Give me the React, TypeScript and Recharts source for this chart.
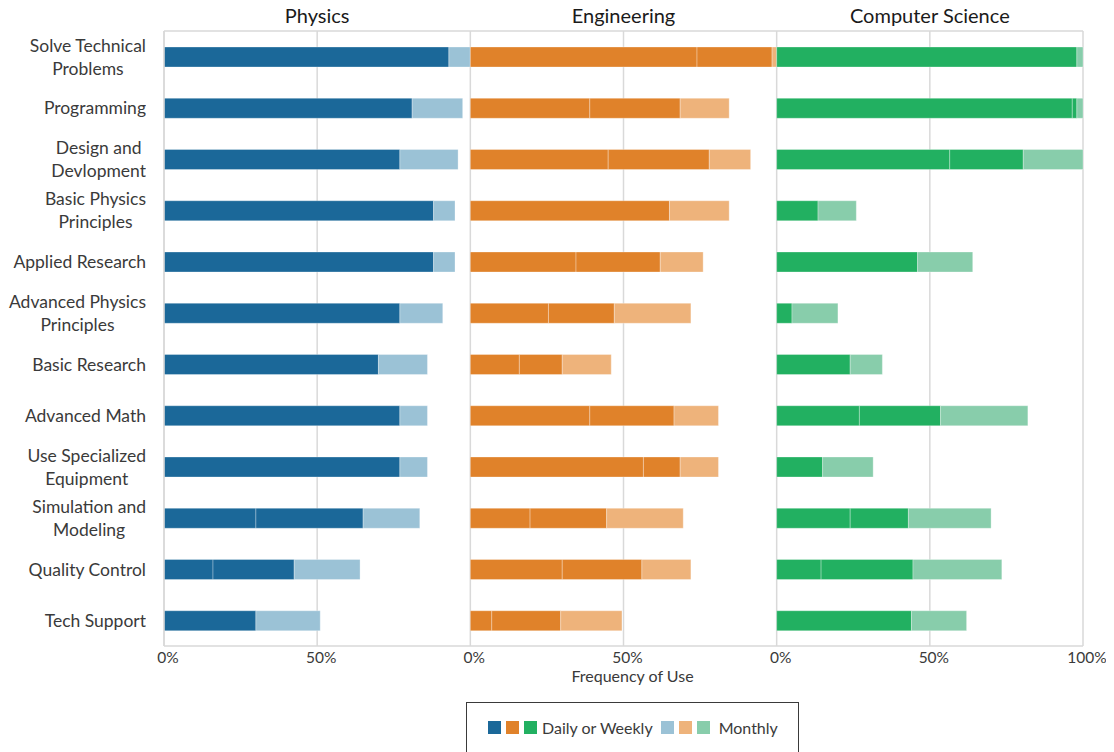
import { Bar, BarChart, CartesianGrid, XAxis, YAxis } from "recharts";

const categories = [
  "Solve Technical\nProblems",
  "Programming",
  "Design and\nDevlopment",
  "Basic Physics\nPrinciples",
  "Applied Research",
  "Advanced Physics\nPrinciples",
  "Basic Research",
  "Advanced Math",
  "Use Specialized\nEquipment",
  "Simulation and\nModeling",
  "Quality Control",
  "Tech Support",
];

// percent of respondents; daily + weekly share the dark colour
const physDaily = [93, 81, 77, 88, 88, 77, 70, 77, 77, 30, 16, 30];
const physWeekly = [0, 0, 0, 0, 0, 0, 0, 0, 0, 35, 26.5, 0];
const physMonthly = [7, 16.5, 19, 7, 7, 14, 16, 9, 9, 18.5, 21.5, 21];

const engDaily = [74, 39, 45, 65, 34.5, 25.5, 16, 39, 56.5, 19.5, 30, 7];
const engWeekly = [24.5, 29.5, 33, 0, 27.5, 21.5, 14, 27.5, 12, 25, 26, 22.5];
const engMonthly = [1.5, 16, 13.5, 19.5, 14, 25, 16, 14.5, 12.5, 25, 16, 20];

const csDaily = [98, 96.5, 56.5, 13.5, 46, 5, 24, 27, 15, 24, 14.5, 44];
const csWeekly = [0, 1.5, 24, 0, 0, 0, 0, 26.5, 0, 19, 30, 0];
const csMonthly = [2, 2, 19.5, 12.5, 18, 15, 10.5, 28.5, 16.5, 27, 29, 18];

const panels = ["Physics", "Engineering", "Computer Science"];

const colors = {
  physDark: "#1b6899",
  physLight: "#9bc2d6",
  engDark: "#e0822a",
  engLight: "#eeb37b",
  csDark: "#22b061",
  csLight: "#88cdab",
};

// one long stack per row: each discipline is padded to 100 so it fills its own panel
const data = categories.map((category, i) => ({
  category,
  physDaily: physDaily[i],
  physWeekly: physWeekly[i],
  physMonthly: physMonthly[i],
  physGap: 100 - physDaily[i] - physWeekly[i] - physMonthly[i],
  engDaily: engDaily[i],
  engWeekly: engWeekly[i],
  engMonthly: engMonthly[i],
  engGap: 100 - engDaily[i] - engWeekly[i] - engMonthly[i],
  csDaily: csDaily[i],
  csWeekly: csWeekly[i],
  csMonthly: csMonthly[i],
}));

const series = [
  { key: "physDaily", fill: colors.physDark },
  { key: "physWeekly", fill: colors.physDark },
  { key: "physMonthly", fill: colors.physLight },
  { key: "physGap", fill: "transparent" },
  { key: "engDaily", fill: colors.engDark },
  { key: "engWeekly", fill: colors.engDark },
  { key: "engMonthly", fill: colors.engLight },
  { key: "engGap", fill: "transparent" },
  { key: "csDaily", fill: colors.csDark },
  { key: "csWeekly", fill: colors.csDark },
  { key: "csMonthly", fill: colors.csLight },
];

const font = "Lato, 'Open Sans', sans-serif";
const gridColor = "#d9d9d9";
const textColor = "#3a3a3a";

const CategoryTick = ({ x, y, payload }: any) => (
  <foreignObject x={x - 178} y={y - 26} width={160} height={52}>
    <div
      style={{
        display: "flex",
        justifyContent: "flex-end",
        alignItems: "center",
        height: "100%",
      }}
    >
      <div
        style={{
          textAlign: "center",
          whiteSpace: "pre-line",
          fontFamily: font,
          fontSize: 17.5,
          lineHeight: "23px",
          color: textColor,
        }}
      >
        {payload.value}
      </div>
    </div>
  </foreignObject>
);

const pctLabel = (v: number) => (v === 300 ? "100%" : `${v % 100}%`);

const Swatch = ({ color }: { color: string }) => (
  <span
    style={{
      display: "inline-block",
      width: 13,
      height: 13,
      background: color,
      marginRight: 5,
    }}
  />
);

const App = () => {
  return (
    <div
      style={{ position: "relative", width: 1100, height: 752, marginTop: -8 }}
    >
      <style>{`html,body{overflow:hidden}`}</style>
      <BarChart
        width={1100}
        height={752}
        layout="vertical"
        data={data}
        barSize={20}
        margin={{ top: 11, right: 25, bottom: 66, left: 6 }}
      >
        <CartesianGrid
          horizontal={false}
          stroke={gridColor}
          strokeWidth={1.5}
        />
        <XAxis
          type="number"
          domain={[0, 300]}
          ticks={[0, 50, 100, 150, 200, 250, 300]}
          tickFormatter={pctLabel}
          height={40}
          axisLine={{ stroke: gridColor, strokeWidth: 1.5 }}
          tickLine={false}
          tickSize={0}
          tickMargin={6}
          tick={{ fill: textColor, fontSize: 15.5, fontFamily: font, dx: 4 }}
          label={{
            value: "Frequency of Use",
            position: "insideBottom",
            offset: 4,
            dx: 9,
            fill: textColor,
            fontSize: 16,
            fontFamily: font,
          }}
        />
        <XAxis
          xAxisId="top"
          orientation="top"
          type="number"
          domain={[0, 300]}
          allowDataOverflow
          ticks={[50, 150, 250]}
          tickFormatter={(v: number) => panels[Math.floor(v / 100)]}
          height={20}
          axisLine={{ stroke: gridColor, strokeWidth: 1.5 }}
          tickLine={false}
          tickSize={0}
          tickMargin={8}
          tick={{ fill: "#1a1a1a", fontSize: 20, fontFamily: font }}
        />
        <YAxis
          type="category"
          dataKey="category"
          width={150}
          interval={0}
          axisLine={{ stroke: gridColor, strokeWidth: 1.5 }}
          tickLine={false}
          tickSize={0}
          tickMargin={0}
          tick={<CategoryTick />}
        />
        {series.map((s) => (
          <Bar
            key={s.key}
            dataKey={s.key}
            stackId="all"
            fill={s.fill}
            stroke={s.fill === "transparent" ? "none" : "#ffffff"}
            strokeOpacity={0.3}
            strokeWidth={1}
            isAnimationActive={false}
          />
        ))}
      </BarChart>
      <div
        style={{
          position: "absolute",
          left: 458,
          top: 702,
          width: 333,
          height: 80,
          boxSizing: "border-box",
          border: "1.5px solid #3a3a3a",
          display: "flex",
          alignItems: "flex-start",
          paddingTop: 16,
          paddingLeft: 21,
          fontFamily: font,
          fontSize: 16,
          color: textColor,
        }}
      >
        <div style={{ display: "flex", alignItems: "center", height: 16 }}>
          <Swatch color={colors.physDark} />
          <Swatch color={colors.engDark} />
          <Swatch color={colors.csDark} />
          <span style={{ marginLeft: 0, marginRight: 8 }}>Daily or Weekly</span>
          <Swatch color={colors.physLight} />
          <Swatch color={colors.engLight} />
          <Swatch color={colors.csLight} />
          <span style={{ marginLeft: 4 }}>Monthly</span>
        </div>
      </div>
    </div>
  );
};

export default App;
